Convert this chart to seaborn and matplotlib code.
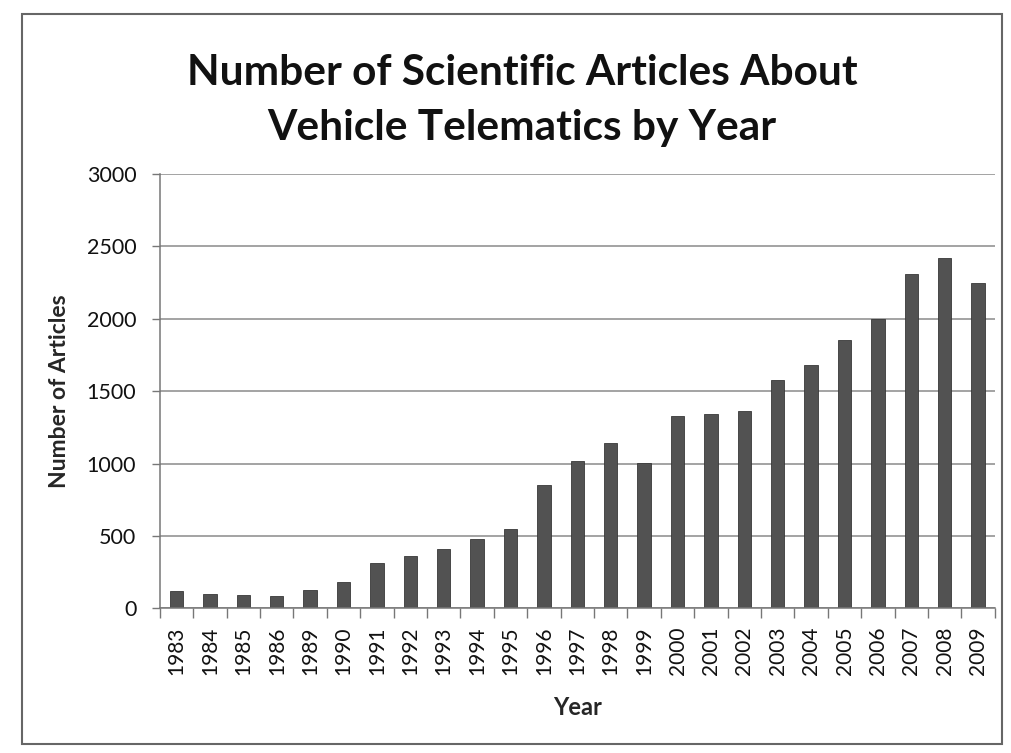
import matplotlib
matplotlib.use("Agg")
import matplotlib.pyplot as plt
from matplotlib.patches import Rectangle
import seaborn as sns
import pandas as pd

years = ["1983", "1984", "1985", "1986", "1989", "1990", "1991", "1992", "1993",
         "1994", "1995", "1996", "1997", "1998", "1999", "2000", "2001", "2002",
         "2003", "2004", "2005", "2006", "2007", "2008", "2009"]
articles = [120, 100, 95, 85, 125, 185, 315, 360, 410,
            480, 545, 855, 1015, 1140, 1005, 1330, 1345, 1360,
            1580, 1680, 1850, 2000, 2310, 2420, 2250]
y_ticks = [0, 500, 1000, 1500, 2000, 2500, 3000]

df = pd.DataFrame({"Year": years, "Articles": articles})

sns.set_theme(style="white")
plt.rcParams["font.family"] = ["Lato", "DejaVu Sans"]

fig = plt.figure(figsize=(10.12, 7.53), dpi=100)
ax = fig.add_axes([0.158, 0.192, 0.825, 0.577])

sns.barplot(data=df, x="Year", y="Articles", color="#525252", width=0.4,
            saturation=1, ax=ax, edgecolor="#383838", linewidth=0.6)

ax.set_ylim(0, 3000)
ax.set_yticks(y_ticks)
ax.set_yticklabels([str(t) for t in y_ticks], fontsize=15.5, color="#111111")
ax.set_xlim(-0.5, len(years) - 0.5)
ax.tick_params(axis="x", labelrotation=90, labelsize=15, labelcolor="#111111",
               length=0, pad=13)
ax.tick_params(axis="y", length=6, width=1, color="#777777", pad=11, left=True)

# boundary tick marks between categories on the x axis
ax.set_xticks([i - 0.5 for i in range(len(years) + 1)], minor=True)
ax.tick_params(axis="x", which="minor", bottom=True, length=7, width=1,
               color="#777777")

ax.grid(axis="y", color="#8a8a8a", linewidth=1.1)
ax.set_axisbelow(True)
for side in ("top", "right"):
    ax.spines[side].set_visible(False)
for side in ("left", "bottom"):
    ax.spines[side].set_color("#777777")
    ax.spines[side].set_linewidth(1.1)

ax.set_xlabel("Year", fontsize=17, fontweight="bold", labelpad=15)
ax.set_ylabel("Number of Articles", fontsize=16.5, fontweight="bold", labelpad=12)

fig.text(0.516, 0.867, "Number of Scientific Articles About\nVehicle Telematics by Year",
         ha="center", va="center", fontsize=30.5, fontweight="bold",
         linespacing=1.55, color="#111111")

# chart frame
fig.patches.append(Rectangle((0.022, 0.012), 0.968, 0.97, transform=fig.transFigure,
                             fill=False, edgecolor="#666666", linewidth=1.5))

fig.savefig("out.png", dpi=100, facecolor="white")
